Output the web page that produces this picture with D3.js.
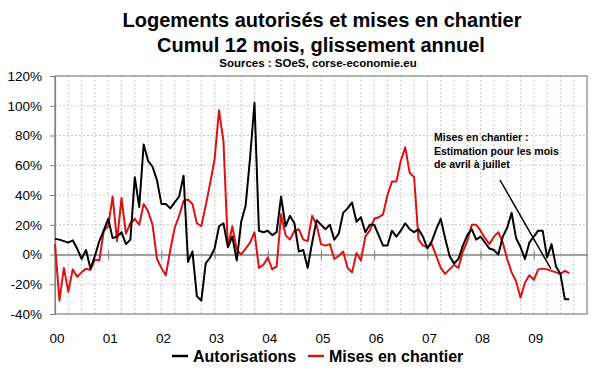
<!DOCTYPE html>
<html>
<head>
<meta charset="utf-8">
<script src="https://cdnjs.cloudflare.com/ajax/libs/d3/7.8.5/d3.min.js"></script>
<style>
body{margin:0;background:#fff;}
svg text{font-family:"Liberation Sans",Arial,sans-serif;fill:#000;}
</style>
</head>
<body>
<div id="chart"></div>
<script>
// monthly values, janvier 2000 -> septembre 2009 (glissement annuel, %)
var autorisations=[10.5,10,9,8,9.5,4,-3,3,-9.5,-1,9,16,
	24,11,12,15,7,10,52,32,74,63,59,50,
	34,34,31,35,39,53,-5,2,-28,-31,-6,-2,
	4,19,21,5,12,-4,22,33,65,102,16,15,
	16,13,15,39,19,26,21,2,3,-9,8,23,
	20,17,20,10,14,28,31,35,22,25,15,20,
	20,13,6,6,16,12,16,21,17,15,17,12,
	4,9,17,24,11,-1,-6,-3,6,13,17,10,
	12,8,4,3,0,12,18,28,11,5,-3,8,
	12,16,16,-2,7,-8,-13,-30,-30];
var mises=[7,-31,-9,-25,-10,-15,-12,-9.5,-10.4,-3.5,-4,16,
	19,39,9,38,14,21,24,20,34,29,20,-3,
	-9,-14,3,18,26,36,37,34,21,19,33,48,
	64,97,76,5,19,3,0,4,8,15,-9,-7,
	-2,-10,-8,27,13,10,16,17,10,9,26,20,
	7,6,7,-3,-1,2,-9,-12,1,-4,12,16,
	24,25,27,40,49,49,63,72,55,52,10,6,
	5,7,-1,-9,-13,-10,-7,-9,2,9,20,20,
	16,11,7,12,15,8,-3,-12,-18,-29,-19,-14,
	-17,-10,-9.5,-10,-11,-12,-13,-11,-12.6];
var yearLabels=["00","01","02","03","04","05","06","07","08","09"];
var yTicks=[-40,-20,0,20,40,60,80,100,120];
var seriesNames=["Autorisations","Mises en chantier"];
var seriesColors=["#000000","#dd1111"];

var width=600,height=372;
var x=d3.scaleLinear().domain([0,120]).range([55,587]);
var y=d3.scaleLinear().domain([-40,120]).range([314,76]);

var svg=d3.select("#chart").append("svg")
	.attr("width",width)
	.attr("height",height);

svg.append("rect").attr("width",width).attr("height",height).attr("fill","#fff");

// titles
svg.append("text").attr("x",322).attr("y",27)
	.attr("text-anchor","middle").style("font-weight","bold").style("font-size","20px")
	.text("Logements autorisés et mises en chantier");
svg.append("text").attr("x",321).attr("y",52)
	.attr("text-anchor","middle").style("font-weight","bold").style("font-size","20px")
	.text("Cumul 12 mois, glissement annuel");
svg.append("text").attr("x",318).attr("y",67)
	.attr("text-anchor","middle").style("font-weight","bold").style("font-size","11.5px")
	.text("Sources : SOeS, corse-economie.eu");

// grid
var grid=svg.append("g").attr("class","grid");
grid.selectAll("line.v")
	.data(d3.range(3,120,3))
	.enter().append("line")
	.attr("x1",function(d){return x(d);})
	.attr("x2",function(d){return x(d);})
	.attr("y1",y(120)).attr("y2",y(-40))
	.attr("stroke","#c8c8c8").attr("stroke-dasharray","2,2");
grid.selectAll("line.h")
	.data(yTicks.filter(function(d){return d!==0 && d!==-40 && d!==120;}))
	.enter().append("line")
	.attr("x1",x(0)).attr("x2",x(120))
	.attr("y1",function(d){return y(d);})
	.attr("y2",function(d){return y(d);})
	.attr("stroke","#c8c8c8").attr("stroke-dasharray","2,2");

// plot border
svg.append("rect")
	.attr("x",x(0)).attr("y",y(120))
	.attr("width",x(120)-x(0)).attr("height",y(-40)-y(120))
	.attr("fill","none").attr("stroke","#808080").attr("stroke-width",1.2);

// y axis
var yAxis=svg.append("g")
	.attr("transform","translate("+x(0)+",0)")
	.call(d3.axisLeft(y).tickValues(yTicks).tickSize(5).tickPadding(8)
		.tickFormat(function(d){return d+"%";}));
yAxis.select(".domain").attr("stroke","#808080").attr("stroke-width",1.2);
yAxis.selectAll(".tick line").attr("stroke","#808080");
yAxis.selectAll("text").style("font-size","13.5px").attr("fill","#000");

// zero line with year ticks
var xAxis=svg.append("g")
	.attr("transform","translate(0,"+y(0)+")")
	.call(d3.axisBottom(x).tickValues(d3.range(12,120,12)).tickSizeInner(5).tickSizeOuter(0).tickFormat(""));
xAxis.select(".domain").attr("stroke","#808080").attr("stroke-width",1.5);
xAxis.selectAll(".tick line").attr("stroke","#808080").attr("y1",-4);

// year labels
svg.append("g").selectAll("text")
	.data(yearLabels)
	.enter().append("text")
	.attr("x",function(d,i){return x(i*12)+2;})
	.attr("y",343)
	.attr("text-anchor","middle")
	.style("font-size","13.5px")
	.text(function(d){return d;});

// series
var line=d3.line()
	.x(function(d,i){return x(i);})
	.y(function(d){return y(d);});

svg.append("path").datum(mises)
	.attr("d",line).attr("fill","none")
	.attr("stroke",seriesColors[1]).attr("stroke-width",2).attr("stroke-linejoin","round");
svg.append("path").datum(autorisations)
	.attr("d",line).attr("fill","none")
	.attr("stroke",seriesColors[0]).attr("stroke-width",2).attr("stroke-linejoin","round");

// annotation
var note=svg.append("g").attr("class","note");
note.selectAll("text")
	.data(["Mises en chantier :","Estimation pour les mois","de avril à juillet"])
	.enter().append("text")
	.attr("x",434)
	.attr("y",function(d,i){return 141+i*13.5;})
	.style("font-weight","bold").style("font-size","10.5px")
	.text(function(d){return d;});
note.append("line")
	.attr("x1",500).attr("y1",180)
	.attr("x2",551).attr("y2",269)
	.attr("stroke","#000").attr("stroke-width",1.5);

// legend
var legendPos=[172,308];
var legend=svg.append("g").selectAll("g")
	.data(seriesNames)
	.enter().append("g")
	.attr("transform",function(d,i){return "translate("+legendPos[i]+",356)";});
legend.append("line")
	.attr("x1",0).attr("x2",16)
	.attr("stroke",function(d,i){return seriesColors[i];})
	.attr("stroke-width",2.5);
legend.append("text")
	.attr("x",21).attr("y",6)
	.style("font-weight","bold").style("font-size","16px")
	.text(function(d){return d;});
</script>
</body>
</html>
